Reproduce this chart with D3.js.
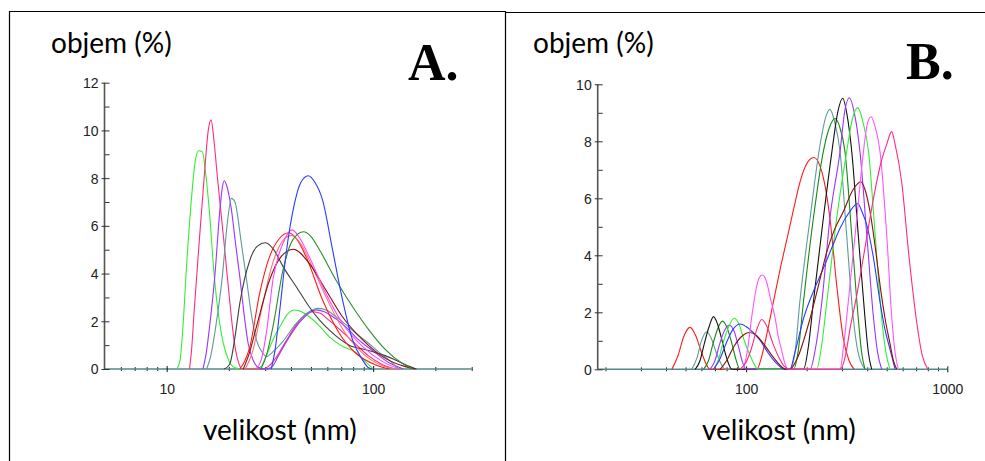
<!DOCTYPE html>
<html><head><meta charset="utf-8">
<script src="https://cdn.jsdelivr.net/npm/d3@7"></script>
<style>
html,body{margin:0;padding:0;background:#fff;}
svg{display:block;}
</style></head><body>
<svg id="chart" width="985" height="461"></svg>
<script>
// ---------- Panel A: size distributions by volume, [size nm, volume %] ----------
const aGreen = [[11.2,0],[11.6,0.35],[12.0,1.8],[12.4,3.9],[13.06,6.7],[13.8,8.8],[14.3,9.15],[14.9,9.1],[15.4,8.3],[16.07,6.7],[17.0,3.9],[18.0,2.0],[18.8,1.08],[20.0,0.35],[21.5,0.05],[23,0],[27,0],[28.6,0.1],[30.5,0.6],[32.7,1.22],[35.5,1.8],[38.5,2.3],[41.6,2.47],[45,2.4],[49,2.19],[55,1.8],[61.4,1.35],[70,0.98],[82,0.7],[92,0.3],[100,0]];
const aPink = [[12.9,0],[13.2,0.8],[13.6,2.47],[14.36,5.27],[15.2,8.06],[15.9,10.0],[16.4,10.44],[17.0,9.46],[17.6,8.06],[18.97,5.27],[20.4,2.47],[21.2,1.2],[22.1,0.38],[23.2,0],[29,0],[31,0.1],[34,0.5],[38,1.2],[42,1.8],[46,2.2],[50,2.4],[55,2.35],[61,2.05],[70,1.6],[82,1.05],[95,0.55],[110,0.2],[128,0]];
const aPurple = [[15.0,0],[15.5,0.6],[16.2,1.9],[17.1,3.87],[18.1,6.66],[18.6,7.6],[19.0,7.89],[19.5,7.7],[20.6,6.66],[21.6,5.2],[22.6,3.87],[23.7,2.3],[24.8,1.08],[26.2,0.38],[28,0.05],[30,0],[32,0.05],[35,0.6],[39,1.3],[44,1.95],[49,2.35],[53,2.48],[58,2.4],[66,2.1],[75,1.7],[82,1.35],[100,0.75],[120,0.25],[140,0]];
const aCadet = [[15.6,0],[16.3,0.5],[17.3,1.8],[18.6,3.87],[19.6,6.0],[20.6,7.15],[21.4,7.0],[23,5.27],[24.5,3.6],[25.6,2.4],[27.2,1.22],[29,0.7],[30.5,0.52],[32.5,0.7],[36.5,1.15],[42.4,1.91],[48,2.35],[54,2.54],[60,2.45],[66,2.19],[74,1.85],[82.4,1.5],[99.4,0.94],[110,0.6],[119,0.38],[133,0]];
const aBlack = [[19,0],[20.2,0.2],[21.3,1.2],[22.6,2.75],[25.3,4.57],[27.5,5.15],[30.1,5.29],[33,5.0],[36.6,4.29],[42.4,3.45],[49,2.61],[55,2.05],[61.4,1.63],[76.6,1.0],[93,0.8],[115,0.55],[128,0.38],[154,0.07],[162,0]];
const aRed = [[22.6,0],[23.8,0.3],[25.3,0.94],[28.2,3.17],[31.5,4.71],[35,5.45],[39.1,5.71],[43,5.4],[47.3,4.71],[56.9,2.89],[68.5,1.5],[82.4,0.66],[103,0.17],[120,0]];
const aSalmon = [[24,0],[26,0.7],[29,2.6],[32,4.2],[36,5.3],[40,5.6],[45,5.2],[50,4.4],[60,2.9],[72,1.6],[88,0.7],[110,0.15],[130,0]];
const aMaroon = [[23.5,0],[25,0.6],[27.2,1.77],[31.5,3.73],[35.3,4.64],[41.1,5.02],[49,4.43],[59,3.31],[71,2.19],[89,1.22],[111,0.52],[143,0.1],[160,0]];
const aMagenta = [[27,0],[28.5,0.3],[30.5,1.6],[32.7,3.73],[36.6,5.27],[40.5,5.83],[44,5.5],[49,4.71],[59,3.17],[71,1.91],[89,0.94],[111,0.31],[135,0]];
const aDarkGreen = [[28.6,0],[30.5,0.6],[32.7,1.77],[36.6,4.15],[40.8,5.41],[46,5.75],[50,5.55],[55,4.99],[66,3.73],[79.5,2.61],[95.5,1.63],[115,0.8],[138,0.24],[155,0]];
const aBlue = [[32.1,0],[33.5,0.8],[35.3,2.47],[37.9,4.85],[41.6,6.94],[44.5,7.8],[48.5,8.1],[52,7.85],[56.9,7.08],[63.6,4.99],[71.1,2.89],[79.5,1.22],[88.8,0.38],[95,0.05],[99,0]];

const aSeries = [aGreen, aPink, aPurple, aCadet, aBlack, aRed, aSalmon, aMaroon, aMagenta, aDarkGreen, aBlue];
const aColors = ["#33ee33", "#ff2a80", "#9b35ff", "#5f9a9a", "#404040", "#ff1a1a", "#ff7070", "#8b1010", "#ff44ff", "#2e8b2e", "#2a3cff"];
const aXDomain = [5, 300];
const aYDomain = [0, 12];
const aXMajor = [10, 100];
const aXMinor = [6, 7, 8, 9, 20, 30, 40, 50, 60, 70, 80, 90, 200, 300];
const aYMajor = [0, 2, 4, 6, 8, 10, 12];
const aYMinor = [1, 3, 5, 7, 9, 11];

// ---------- Panel B ----------
const bRed = [[42.8,0],[46,0.5],[49,1.15],[52.7,1.47],[56,1.2],[60,0.6],[64,0.12],[66,0],[113,0],[120,0.5],[127,1.26],[137,2.4],[147.5,3.5],[160,4.6],[172,5.6],[185,6.55],[198,7.15],[217,7.43],[238,6.93],[261,5.3],[282,2.96],[304,1.09],[325,0.3],[345,0]];
const bCadet = [[53.7,0],[57,0.4],[60,1.0],[63.8,1.32],[67,1.1],[71,0.6],[75,0.2],[78.7,0],[165,0],[175,0.6],[185,2.37],[208,5.3],[233,7.87],[250,8.9],[261,9.12],[275,8.7],[293,7.64],[316,4.71],[341,1.79],[360,0.6],[390,0]];
const bBlack = [[55.8,0],[59,0.3],[62,0.9],[65.5,1.5],[68.9,1.85],[72,1.6],[76,1.0],[80,0.4],[84.9,0],[193,0],[204,0.8],[216,2.37],[242,5.3],[267,7.64],[285,9.0],[302,9.51],[318,8.9],[335,7.64],[361,4.71],[390,1.79],[405,0.6],[421,0]];
const bDarkGreen = [[61.4,0],[65,0.3],[68.5,0.9],[72.5,1.45],[76.2,1.69],[80,1.5],[85,0.9],[89,0.35],[93.3,0],[172,0],[182,0.7],[192.8,2.37],[216,5.3],[242,7.64],[260,8.5],[277,8.8],[292,8.5],[310,7.64],[335,4.71],[361,1.79],[375,0.6],[390,0]];
const bPurple = [[66.2,0],[70,0.3],[74,0.9],[78,1.35],[82.5,1.55],[87,1.35],[92,0.75],[96,0.25],[100,0],[208,0],[222,0.8],[238,2.37],[261,5.3],[293,7.64],[310,9.1],[326,9.53],[345,9.0],[368,7.64],[398,4.71],[430,1.79],[450,0.6],[472,0]];
const bLightGreen = [[68.9,0],[73,0.35],[77,0.95],[82,1.5],[87.2,1.79],[92,1.6],[98,1.0],[106,0.4],[115,0],[224,0],[237,0.8],[252,2.37],[282,5.3],[316,7.64],[338,8.8],[359,9.18],[380,8.7],[406,7.64],[438,4.71],[472,1.79],[495,0.6],[519,0]];
const bBlue = [[69,0],[74,0.35],[80,0.95],[86,1.4],[93.4,1.59],[100,1.5],[108,1.3],[117,1.03],[128,0.6],[139,0.27],[156,0],[165,0],[175,0.6],[193,1.79],[215,2.7],[242,3.54],[268,4.3],[293,4.95],[325,5.5],[359,5.82],[378,5.5],[398,5.06],[430,3.89],[463,2.37],[490,1.4],[519,0.7],[550,0]];
const bMaroon = [[74.3,0],[80,0.3],[87,0.8],[95,1.15],[104,1.29],[112,1.2],[122,0.9],[132,0.56],[145,0.2],[158,0],[165,0],[180,0.4],[208,1.79],[230,3.0],[252,4.13],[275,4.9],[304,5.53],[340,6.3],[372,6.58],[390,6.3],[413,5.53],[440,4.2],[463,2.96],[490,1.8],[519,0.9],[540,0.3],[561,0]];
const bMagenta = [[95,0],[98.5,0.2],[101.6,0.68],[106.7,1.85],[112,2.8],[116,3.2],[120.5,3.31],[126,3.1],[133,2.4],[139,1.85],[145,1.1],[150,0.68],[156,0.2],[162,0],[293,0],[305,0.8],[322,2.37],[355,5.3],[383,7.64],[400,8.6],[418,8.86],[438,8.5],[463,7.64],[500,4.71],[530,1.79],[550,0.6],[571,0]];
const bCrimson = [[93,0],[100,0.25],[107,0.8],[113,1.4],[119.7,1.75],[127,1.5],[136,0.9],[146,0.4],[155,0.1],[165,0],[293,0],[310,0.4],[330,1.5],[355,2.6],[380,3.8],[406,5.0],[435,6.2],[470,7.3],[500,7.9],[529,8.34],[550,7.9],[595,6.5],[640,4.2],[700,1.8],[750,0.5],[800,0]];

const bSeries = [bRed, bCadet, bDarkGreen, bBlack, bPurple, bLightGreen, bBlue, bMaroon, bMagenta, bCrimson];
const bColors = ["#ff1a1a", "#5f9a9a", "#148a14", "#111111", "#9b35ff", "#33ee33", "#2a3cff", "#8b1010", "#ff55ff", "#ff2a80"];
const bXDomain = [18.3, 1000];
const bYDomain = [0, 10];
const bXMajor = [100, 1000];
const bXMinor = [20, 30, 40, 50, 60, 70, 80, 90, 200, 300, 400, 500, 600, 700, 800, 900];
const bYMajor = [0, 2, 4, 6, 8, 10];
const bYMinor = [1, 3, 5, 7, 9];

const yTitle = "objem (%)";
const xTitle = "velikost (nm)";
const panelLetters = ["A.", "B."];

const svg = d3.select("#chart");
svg.append("rect").attr("width", 985).attr("height", 461).attr("fill", "#fff");

// frames around the two panels
svg.append("path").attr("d", "M9.5,461V11.5H506").attr("fill", "none").attr("stroke", "#000").attr("stroke-width", 1.2);
svg.append("path").attr("d", "M505.5,461V11.5M505,12.5H985").attr("fill", "none").attr("stroke", "#000").attr("stroke-width", 1.2);

function drawPanel(cfg) {
  const g = svg.append("g");
  const x = d3.scaleLog().domain(cfg.xDomain).range(cfg.xRange);
  const y = d3.scaleLinear().domain(cfg.yDomain).range(cfg.yRange);
  const x0 = cfg.xRange[0], y0 = cfg.yRange[0];

  // x axis: baseline plus minor and major ticks
  const xa = g.append("g").attr("transform", `translate(0,${y0})`);
  xa.call(d3.axisBottom(x).tickValues(cfg.xMinor).tickFormat("").tickSizeOuter(0));
  xa.select(".domain").remove();
  xa.selectAll(".tick line").attr("y1", -2).attr("y2", 2).attr("stroke", "#222");
  const xb = g.append("g").attr("transform", `translate(0,${y0})`);
  xb.call(d3.axisBottom(x).tickValues(cfg.xMajor).tickFormat(d3.format("d")).tickSizeOuter(0));
  xb.select(".domain").attr("stroke", "#4f8a8a").attr("stroke-width", 1.6).attr("d", `M${x0},0H${cfg.xRange[1]}`);
  xb.selectAll(".tick line").attr("y1", -3).attr("y2", 3).attr("stroke", "#111");
  xb.selectAll(".tick text").attr("y", 20).attr("dy", "0.35em")
    .attr("font-family", "Liberation Sans, Arial, sans-serif").attr("font-size", 14).attr("fill", "#222");

  // y axis
  const ya = g.append("g").attr("transform", `translate(${x0},0)`);
  ya.call(d3.axisLeft(y).tickValues(cfg.yMinor).tickFormat("").tickSizeOuter(0));
  ya.select(".domain").remove();
  ya.selectAll(".tick line").attr("x1", 0).attr("x2", 5).attr("stroke", "#333");
  const yb = g.append("g").attr("transform", `translate(${x0},0)`);
  yb.call(d3.axisLeft(y).tickValues(cfg.yMajor).tickFormat(d3.format("d")).tickSizeOuter(0));
  yb.select(".domain").attr("stroke", "#555").attr("stroke-width", 1.6).attr("d", `M0,${y0}V${cfg.yRange[1]}`);
  yb.selectAll(".tick line").attr("x1", -3).attr("x2", 5).attr("stroke", "#333");
  yb.selectAll(".tick text").attr("x", -6).attr("dy", "0.35em")
    .attr("font-family", "Liberation Sans, Arial, sans-serif").attr("font-size", 14).attr("fill", "#222");

  // distribution curves
  const line = d3.line().x(d => x(d[0])).y(d => y(d[1])).curve(d3.curveMonotoneX);
  cfg.series.forEach((s, i) => {
    g.append("path").attr("d", line(s)).attr("fill", "none")
      .attr("stroke", cfg.colors[i]).attr("stroke-width", 1.1).attr("stroke-linejoin", "round");
  });

  // titles
  g.append("text").attr("x", cfg.yTitlePos[0]).attr("y", cfg.yTitlePos[1]).text(yTitle)
    .attr("font-family", "Lato, 'Open Sans', sans-serif").attr("font-size", 28).attr("fill", "#000");
  g.append("text").attr("x", cfg.xTitlePos[0]).attr("y", cfg.xTitlePos[1]).text(xTitle)
    .attr("font-family", "Lato, 'Open Sans', sans-serif").attr("font-size", 28).attr("fill", "#000");
  g.append("text").attr("x", cfg.letterPos[0]).attr("y", cfg.letterPos[1]).text(cfg.letter)
    .attr("font-family", "'Liberation Serif', 'Times New Roman', serif").attr("font-weight", "bold")
    .attr("font-size", 52).attr("fill", "#000");
}

drawPanel({
  series: aSeries, colors: aColors, xDomain: aXDomain, yDomain: aYDomain,
  xRange: [104.5, 471.7], yRange: [369, 82.7],
  xMajor: aXMajor, xMinor: aXMinor, yMajor: aYMajor, yMinor: aYMinor,
  yTitlePos: [51, 53], xTitlePos: [203, 440], letterPos: [408, 80], letter: panelLetters[0]
});
drawPanel({
  series: bSeries, colors: bColors, xDomain: bXDomain, yDomain: bYDomain,
  xRange: [597.7, 947.3], yRange: [369.3, 84.3],
  xMajor: bXMajor, xMinor: bXMinor, yMajor: bYMajor, yMinor: bYMinor,
  yTitlePos: [533, 53], xTitlePos: [702, 440], letterPos: [906, 79], letter: panelLetters[1]
});
</script>
</body></html>
